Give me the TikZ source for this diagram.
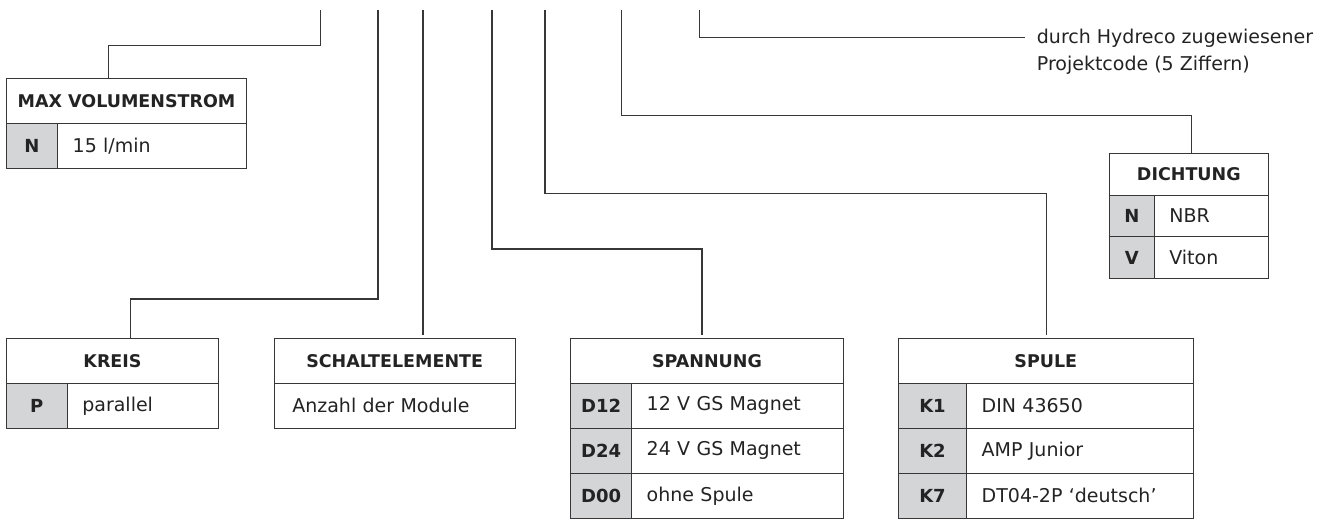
\documentclass[tikz,border=0pt]{standalone}
\usepackage{fontspec}
\setmainfont{DejaVu Sans}
\usepackage{tikz}
\usetikzlibrary{calc}
\usetikzlibrary{positioning}
\definecolor{ink}{RGB}{35, 35, 35}
\definecolor{rulegray}{RGB}{55, 55, 55}
\definecolor{keygray}{RGB}{212, 213, 215}

\tikzset{
  cell/.style={draw=rulegray, line width=1pt, minimum height=45pt, inner sep=0pt, outer sep=0pt,
               text=ink, font=\fontsize{19}{24}\selectfont},
  headcell/.style={cell, minimum width=#1, font=\fontsize{17.5}{21}\selectfont\bfseries},
  keycell/.style={cell, fill=keygray, minimum width=#1, font=\fontsize{18}{21}\selectfont\bfseries},
  valcell/.style={cell, text width=#1, align=left, inner xsep=15pt},
  lead/.style={draw=rulegray, line width=1.1pt},
}

\begin{document}
\begin{tikzpicture}[x=1pt, y=-1pt]
            \useasboundingbox (0,0) rectangle (1324,520);

            % code position marks
            \coordinate (tvol)  at (320.7,10);
            \coordinate (tkrs)  at (378.0,10);
            \coordinate (tsch)  at (423.0,10);
            \coordinate (tspa)  at (492.0,10);
            \coordinate (tspu)  at (545.0,10);
            \coordinate (tdic)  at (621.7,10);
            \coordinate (tpro)  at (699.7,10);
            \coordinate (proend) at (1025,37.3);

            % max volumenstrom
            \node[headcell=240.4pt, anchor=north west] (volh) at (6.3,78.3) {MAX VOLUMENSTROM};
            \node[keycell=51.4pt, anchor=north west]   (volk1) at (volh.south west) {N};
            \node[valcell=159pt, anchor=north west]    (volv1) at (volk1.north east) {15 l/min};

            % kreis
            \node[headcell=212.4pt, anchor=north west] (krsh) at (6.3,338.3) {KREIS};
            \node[keycell=61pt, anchor=north west]     (krsk1) at (krsh.south west) {P};
            \node[valcell=121.4pt, anchor=north west]  (krsv1) at (krsk1.north east) {parallel};

            % schaltelemente
            \node[headcell=240.7pt, anchor=north west] (schh) at (274.3,338.3) {SCHALTELEMENTE};
            \node[valcell=204.7pt, inner xsep=18pt, anchor=north west] (schv1) at (schh.south west) {Anzahl der Module};

            % spannung
            \node[headcell=272.6pt, anchor=north west] (spah) at (570.7,338.3) {SPANNUNG};
            \node[keycell=61pt, anchor=north west]     (spak1) at (spah.south west) {D12};
            \node[valcell=181.6pt, anchor=north west]  (spav1) at (spak1.north east) {12 V GS Magnet};
            \node[keycell=61pt, anchor=north west]     (spak2) at (spak1.south west) {D24};
            \node[valcell=181.6pt, anchor=north west]  (spav2) at (spak2.north east) {24 V GS Magnet};
            \node[keycell=61pt, anchor=north west]     (spak3) at (spak2.south west) {D00};
            \node[valcell=181.6pt, anchor=north west]  (spav3) at (spak3.north east) {ohne Spule};

            % spule
            \node[headcell=295pt, anchor=north west]   (spuh) at (898.3,338.3) {SPULE};
            \node[keycell=68.4pt, anchor=north west]   (spuk1) at (spuh.south west) {K1};
            \node[valcell=196.6pt, anchor=north west]  (spuv1) at (spuk1.north east) {DIN 43650};
            \node[keycell=68.4pt, anchor=north west]   (spuk2) at (spuk1.south west) {K2};
            \node[valcell=196.6pt, anchor=north west]  (spuv2) at (spuk2.north east) {AMP Junior};
            \node[keycell=68.4pt, anchor=north west]   (spuk3) at (spuk2.south west) {K7};
            \node[valcell=196.6pt, anchor=north west]  (spuv3) at (spuk3.north east) {DT04-2P ‘deutsch’};

            % dichtung
            \node[headcell=159pt, minimum height=41.7pt, anchor=north west] (dich) at (1109.3,153.3) {DICHTUNG};
            \node[keycell=45pt, minimum height=41.7pt, anchor=north west]   (dick1) at (dich.south west) {N};
            \node[valcell=84pt, minimum height=41.7pt, anchor=north west]   (dicv1) at (dick1.north east) {NBR};
            \node[keycell=45pt, minimum height=41.7pt, anchor=north west]   (dick2) at (dick1.south west) {V};
            \node[valcell=84pt, minimum height=41.7pt, anchor=north west]   (dicv2) at (dick2.north east) {Viton};

            % projektcode
            \node[anchor=west, align=left, inner sep=0pt, text=ink, font=\fontsize{19}{27}\selectfont]
                 (pro) at (1036.7,51.5) {durch Hydreco zugewiesener\\Projektcode (5 Ziffern)};

            % leader lines
            \draw[lead] (tvol) -- ++(0,35.7) -| ([xshift=102pt]volh.north west);
            \draw[lead] (tkrs) -- ++(0,289) -| ([xshift=124.4pt]krsh.north west);
            \draw[lead, shorten >=3pt] (tsch) -- (tsch |- schh.north);
            \draw[lead, shorten >=3pt] (tspa) -- ++(0,239) -| ([xshift=131.3pt]spah.north west);
            \draw[lead, shorten >=3pt] (tspu) -- ++(0,183.3) -| ([xshift=148.4pt]spuh.north west);
            \draw[lead] (tdic) -- ++(0,105.3) -| ([xshift=82.4pt]dich.north west);
            \draw[lead] (tpro) |- (proend);
        \end{tikzpicture}
\end{document}
